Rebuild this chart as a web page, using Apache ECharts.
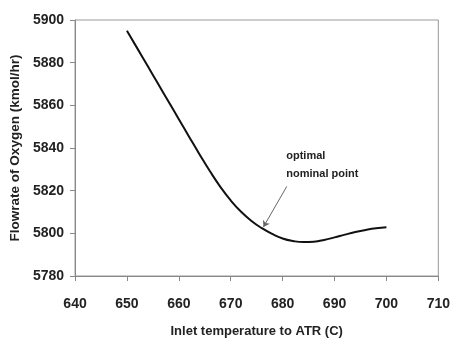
<!DOCTYPE html>
<html>
<head>
<meta charset="utf-8">
<script src="https://cdn.jsdelivr.net/npm/echarts@6/dist/echarts.min.js"></script>
<style>
  html, body { margin: 0; padding: 0; background: #fff; }
  #chart { width: 453px; height: 343px; }
</style>
</head>
<body>
<div id="chart"></div>
<script>
// inlet temperature (C) and oxygen flowrate (kmol/hr)
var temps = [650, 652, 654, 656, 658, 660, 662, 664, 666, 668, 670, 672, 674,
             676, 678, 680, 682, 684, 686, 688, 690, 692, 694, 696, 698, 700];
var oxygen = [5895, 5886.7, 5878.4, 5870.1, 5861.8, 5853.5, 5845.2, 5837.0, 5829.1, 5821.8, 5815.4, 5810.1, 5805.8,
              5802.4, 5799.7, 5797.6, 5796.4, 5795.9, 5796.1, 5796.9, 5798.1, 5799.4, 5800.6, 5801.6, 5802.4, 5802.9];

// annotation: label position and arrow start/end in data units
var noteText = 'optimal\nnominal point';
var noteAt = [680.7, 5832];
var arrowFrom = [680.8, 5822];
var arrowTo = [676.3, 5803.0];

var myChart = echarts.init(document.getElementById('chart'));
var txt = '#222';
var fontFam = '"Liberation Sans", Arial, sans-serif';

var option = {
    animation: false,
    grid: {
        left: 73,
        right: 13,
        top: 20,
        bottom: 66,
        show: true,
        borderColor: '#999',
        borderWidth: 1
    },
    xAxis: {
        type: 'value',
        min: 640,
        max: 710,
        interval: 10,
        name: 'Inlet temperature to ATR (C)',
        nameLocation: 'middle',
        nameGap: 49,
        nameTextStyle: { color: txt, fontSize: 13, fontWeight: 'bold', fontFamily: fontFam },
        axisLine: { lineStyle: { color: '#888' } },
        axisTick: { show: true, length: 5, lineStyle: { color: '#888' } },
        axisLabel: { color: txt, fontSize: 14, fontWeight: 'bold', fontFamily: fontFam, margin: 21 },
        splitLine: { show: false }
    },
    yAxis: {
        type: 'value',
        min: 5780,
        max: 5900,
        interval: 20,
        name: 'Flowrate of Oxygen (kmol/hr)',
        nameLocation: 'middle',
        nameGap: 49,
        nameTextStyle: { color: txt, fontSize: 13.5, fontWeight: 'bold', fontFamily: fontFam },
        axisLine: { show: true, lineStyle: { color: '#888' } },
        axisTick: { show: true, length: 5, lineStyle: { color: '#888' } },
        axisLabel: {
            color: txt, fontSize: 14, fontWeight: 'bold', fontFamily: fontFam, margin: 11,
            formatter: function (v) { return String(v); }
        },
        splitLine: { show: false }
    },
    series: [{
        type: 'line',
        smooth: true,
        showSymbol: false,
        lineStyle: { color: '#111', width: 2 },
        data: temps.map(function (t, i) { return [t, oxygen[i]]; }),
        markLine: {
            silent: true,
            symbol: ['none', 'arrow'],
            symbolSize: 6,
            lineStyle: { color: '#666', width: 1, type: 'solid' },
            label: { show: false },
            data: [[{ coord: arrowFrom }, { coord: arrowTo }]]
        },
        markPoint: {
            silent: true,
            symbol: 'circle',
            symbolSize: 0,
            data: [{
                coord: noteAt,
                label: {
                    show: true,
                    position: 'right',
                    distance: 0,
                    formatter: noteText,
                    color: txt,
                    fontSize: 11,
                    fontWeight: 'bold',
                    fontFamily: fontFam,
                    lineHeight: 18,
                    align: 'left'
                }
            }]
        }
    }]
};

myChart.setOption(option);
window.addEventListener('resize', function () {
    myChart.resize();
});
</script>
</body>
</html>
